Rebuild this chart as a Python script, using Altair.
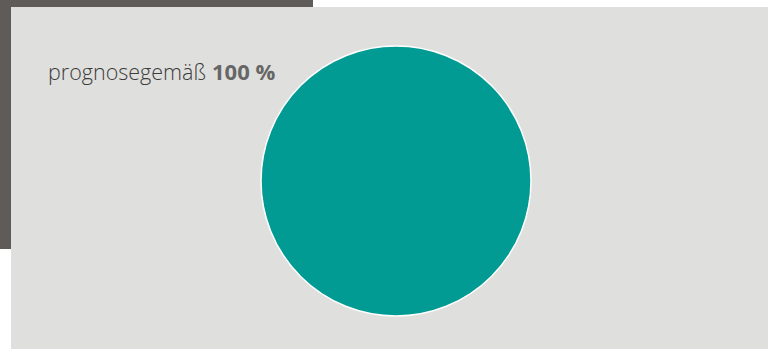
import altair as alt
import pandas as pd

categories = ["prognosegemäß"]
values = [100]
colors = ["#029b94"]

df = pd.DataFrame({"category": categories, "value": values})
df["pct"] = df["value"].astype(int).astype(str) + " %"

W, H = 771, 349

dark = alt.Chart(df.head(1)).mark_rect(color="#5f5b58").encode(
    x=alt.value(0), x2=alt.value(313), y=alt.value(0), y2=alt.value(249)
)
light = alt.Chart(df.head(1)).mark_rect(color="#dfdfdd").encode(
    x=alt.value(11), x2=alt.value(768), y=alt.value(7), y2=alt.value(349)
)
pie = alt.Chart(df).mark_arc(radius=135, stroke="white", strokeWidth=1.5).encode(
    theta=alt.Theta("value:Q", stack=True),
    color=alt.Color("category:N", scale=alt.Scale(domain=categories, range=colors), legend=None),
    x=alt.value(396), y=alt.value(181),
)
lbl = alt.Chart(df).mark_text(
    align="left", baseline="alphabetic", font="Open Sans", fontSize=21.5,
    fontWeight=300, color="#3c3c3c"
).encode(text="category:N", x=alt.value(48), y=alt.value(80))
pct = alt.Chart(df).mark_text(
    align="left", baseline="alphabetic", font="Open Sans", fontSize=22,
    fontWeight="bold", color="#666666"
).encode(text="pct:N", x=alt.value(212), y=alt.value(80))

chart = alt.layer(dark, light, pie, lbl, pct).properties(
    width=W, height=H, padding=0, autosize=alt.AutoSizeParams(type="none"),
    background="white"
).configure_view(stroke=None)

chart.save("out.html", embed_options={"renderer": "svg", "actions": False})
